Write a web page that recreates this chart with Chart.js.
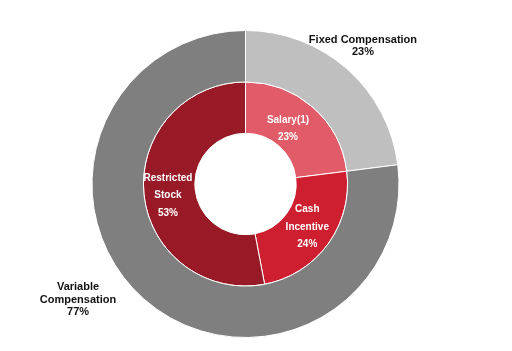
<!DOCTYPE html>
<html>
<head>
<meta charset="utf-8">
<script src="https://cdn.jsdelivr.net/npm/chart.js@4"></script>
<style>
  body { margin: 0; background: #fff; }
  canvas { display: block; }
</style>
</head>
<body>
<canvas id="comp" width="512" height="351"></canvas>
<script>
// Data
const outerLabels = ["Fixed Compensation", "Variable Compensation"];
const outerValues = [23, 77];
const innerLabels = ["Salary(1)", "Cash Incentive", "Restricted Stock"];
const innerValues = [23, 24, 53];

// how each label is broken into lines
const outerText = [["Fixed Compensation"], ["Variable", "Compensation"]];
const innerText = [["Salary(1)"], ["Cash", "Incentive"], ["Restricted", "Stock"]];

// outer labels sit outside the ring: angle (deg, clockwise from top) and radius factor
const outerPlace = [{ angle: 40.3, r: 1.183, lh: 12 }, { angle: 235.3, r: 1.327, lh: 12.5 }];
// small nudges for the inner labels, px
const innerNudge = [[-8, 2], [0, -2], [-1.5, 4.5]];

const sliceLabels = {
  id: "sliceLabels",
  afterDraw(chart) {
    const ctx = chart.ctx;
    ctx.save();
    ctx.textAlign = "center";
    ctx.textBaseline = "middle";

    // inner ring (dataset 1)
    const inner = chart.getDatasetMeta(1);
    ctx.fillStyle = "#fff";
    ctx.font = "bold 10px 'Liberation Sans', Arial, sans-serif";
    inner.data.forEach((arc, i) => {
      const p = arc.tooltipPosition();
      const lines = innerText[i].concat([innerValues[i] + "%"]);
      const lh = 17.5;
      const x = p.x + innerNudge[i][0];
      const y0 = p.y + innerNudge[i][1] - (lines.length - 1) * lh / 2;
      lines.forEach((t, j) => ctx.fillText(t, x, y0 + j * lh));
    });

    // outer ring (dataset 0)
    const outer = chart.getDatasetMeta(0);
    ctx.fillStyle = "#111";
    ctx.font = "bold 11px 'Liberation Sans', Arial, sans-serif";
    outer.data.forEach((arc, i) => {
      const pl = outerPlace[i];
      const a = pl.angle * Math.PI / 180;
      const r = arc.outerRadius * pl.r;
      const x = arc.x + Math.sin(a) * r;
      const y = arc.y - Math.cos(a) * r;
      const lines = outerText[i].concat([outerValues[i] + "%"]);
      const y0 = y - (lines.length - 1) * pl.lh / 2;
      lines.forEach((t, j) => ctx.fillText(t, x, y0 + j * pl.lh));
    });
    ctx.restore();
  }
};

new Chart(document.getElementById("comp"), {
  type: "doughnut",
  data: {
    labels: innerLabels,
    datasets: [
      {
        label: "Compensation",
        data: outerValues,
        backgroundColor: ["#BFBFBF", "#7F7F7F"],
        borderColor: "#fff",
        borderWidth: 1,
      },
      {
        label: "Components",
        data: innerValues,
        backgroundColor: ["#E25B68", "#CD1F2F", "#981A26"],
        borderColor: "#fff",
        borderWidth: 1,
      },
    ],
  },
  options: {
    responsive: false,
    animation: false,
    cutout: "33%",
    layout: {
      padding: { top: 30, bottom: 13, left: 81, right: 102 },
    },
    plugins: {
      legend: { display: false },
      tooltip: { enabled: false },
    },
  },
  plugins: [sliceLabels],
});
</script>
</body>
</html>
